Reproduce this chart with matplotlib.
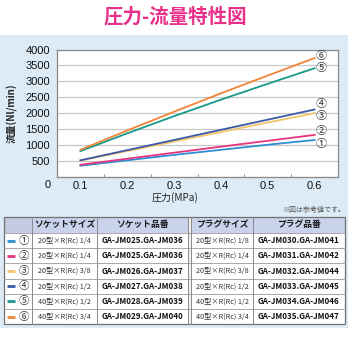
import matplotlib
matplotlib.use("Agg")
import matplotlib.pyplot as plt
from matplotlib.patches import Rectangle
import numpy as np

plt.rcParams['font.family'] = ['Noto Sans CJK JP', 'DejaVu Sans']

# ---------------- data ----------------
pressure = [0.1, 0.2, 0.3, 0.4, 0.5, 0.6]
flow_1 = [340, 510, 680, 840, 1000, 1150]
flow_2 = [370, 560, 750, 940, 1125, 1310]
flow_3 = [500, 800, 1100, 1400, 1700, 1995]
flow_4 = [510, 830, 1150, 1470, 1790, 2110]
flow_5 = [800, 1360, 1900, 2420, 2920, 3410]
flow_6 = [840, 1450, 2040, 2620, 3180, 3730]
series = [flow_1, flow_2, flow_3, flow_4, flow_5, flow_6]
series_labels = ['①', '②', '③', '④', '⑤', '⑥']
colors = ['#2f8fd3', '#e6367f', '#f3c56b', '#3b5aa6', '#17998a', '#f08536']

x_ticks = [0.1, 0.2, 0.3, 0.4, 0.5, 0.6]
x_tick_labels = ['0.1', '0.2', '0.3', '0.4', '0.5', '0.6']
y_ticks = [0, 500, 1000, 1500, 2000, 2500, 3000, 3500, 4000]
y_tick_labels = ['', '500', '1000', '1500', '2000', '2500', '3000', '3500', '4000']
origin_label = '0'

table_headers = ['ソケットサイズ', 'ソケット品番', 'プラグサイズ', 'プラグ品番']
socket_sizes = ['20型×R(Rc) 1/4', '20型×R(Rc) 1/4', '20型×R(Rc) 3/8',
                '20型×R(Rc) 1/2', '40型×R(Rc) 1/2', '40型×R(Rc) 3/4']
socket_parts = ['GA-JM025.GA-JM036', 'GA-JM025.GA-JM036', 'GA-JM026.GA-JM037',
                'GA-JM027.GA-JM038', 'GA-JM028.GA-JM039', 'GA-JM029.GA-JM040']
plug_sizes = ['20型×R(Rc) 1/8', '20型×R(Rc) 1/4', '20型×R(Rc) 3/8',
              '20型×R(Rc) 1/2', '40型×R(Rc) 1/2', '40型×R(Rc) 3/4']
plug_parts = ['GA-JM030.GA-JM041', 'GA-JM031.GA-JM042', 'GA-JM032.GA-JM044',
              'GA-JM033.GA-JM045', 'GA-JM034.GA-JM046', 'GA-JM035.GA-JM047']

# label vertical offsets (layout only)
label_dy = [-125, 125, -90, 160, 10, 65]

# ---------------- figure ----------------
W = H = 350
fig = plt.figure(figsize=(3.5, 3.5), dpi=100)
fig.patch.set_facecolor('white')

bg = fig.add_axes([0, 0, 1, 1], zorder=0)
bg.set_xlim(0, W)
bg.set_ylim(H, 0)
bg.axis('off')

panel_color = '#dcebf6'
bg.add_patch(Rectangle((0, 35), 348, 293, facecolor=panel_color, edgecolor='none'))

# title
bg.text(175, 17, '圧力-流量特性図', color='#e8308a', fontsize=14, fontweight='semibold',
        ha='center', va='center')

# ---------------- chart ----------------
ax = fig.add_axes([57 / W, 1 - 176.5 / H, (338 - 57) / W, (176.5 - 49.5) / H], zorder=2)
ax.set_facecolor('white')
ax.set_xlim(0.05, 0.65)
ax.set_ylim(0, 4000)
ax.set_yticks(y_ticks)
ax.set_yticklabels(y_tick_labels)
ax.set_xticks(x_ticks)
ax.set_xticklabels(x_tick_labels)
ax.set_xticks([0.15, 0.25, 0.35, 0.45, 0.55], minor=True)
ax.grid(axis='y', color='#c8c8c8', linewidth=0.9)
ax.set_axisbelow(True)
ax.tick_params(axis='y', which='major', length=0, labelsize=8, pad=5,
               labelcolor='#111111')
ax.tick_params(axis='x', which='major', length=0, labelsize=8, pad=3,
               labelcolor='#111111')
ax.tick_params(axis='x', which='minor', direction='in', length=2, color='#777777')
for lab in ax.get_xticklabels() + ax.get_yticklabels():
    lab.set_family(['Liberation Sans', 'DejaVu Sans'])
for s in ax.spines.values():
    s.set_color('#8a8a8a')
    s.set_linewidth(0.9)

for vals, col in zip(series, colors):
    ax.plot(pressure, vals, color=col, linewidth=1.3)

for vals, lab, dy in zip(series, series_labels, label_dy):
    ax.text(pressure[-1] + 0.015, vals[-1] + dy, lab, fontsize=8, color='#333333',
            ha='center', va='center')

bg.text(48, 184.5, origin_label, fontsize=8, ha='center', va='center', color='#111111',
        family=['Liberation Sans', 'DejaVu Sans'])

# axis labels
bg.text(12, 113, '流量(Nl/min)', rotation=90, fontsize=7, fontweight='bold',
        ha='center', va='center', color='#222222')
bg.text(175, 198, '圧力(MPa)', fontsize=7.2, ha='center', va='center', color='#222222')
bg.text(345, 210, '※図は参考値です。', fontsize=5, ha='right', va='center', color='#555555')

# ---------------- table ----------------
col_edges = [4, 32, 97, 188, 191, 253, 345]
top = 217
head_h = 16
row_h = 15.2
n = len(series)
bottom = top + head_h + n * row_h

# header backgrounds
bg.add_patch(Rectangle((col_edges[0], top), col_edges[1] - col_edges[0], head_h,
                       facecolor='#c3cbe0', edgecolor='none'))
for c0, c1 in [(1, 2), (2, 3), (4, 5), (5, 6)]:
    bg.add_patch(Rectangle((col_edges[c0], top), col_edges[c1] - col_edges[c0], head_h,
                           facecolor='#c9d3ec', edgecolor='none'))
# body background
bg.add_patch(Rectangle((col_edges[0], top + head_h), col_edges[-1] - col_edges[0],
                       n * row_h, facecolor='white', edgecolor='none'))
# gap between double lines
bg.add_patch(Rectangle((col_edges[3], top), col_edges[4] - col_edges[3], bottom - top,
                       facecolor='#f2f2f2', edgecolor='none'))

# horizontal lines
for i in range(n):
    y = top + head_h + i * row_h
    bg.plot([col_edges[0], col_edges[-1]], [y, y], color='#9a9a9a', linewidth=0.6)
# vertical lines
for xe in col_edges[1:-1]:
    bg.plot([xe, xe], [top, bottom], color='#8a8a8a', linewidth=0.7)
# outer border
bg.add_patch(Rectangle((col_edges[0], top), col_edges[-1] - col_edges[0], bottom - top,
                       facecolor='none', edgecolor='#707070', linewidth=0.9))

centers = [(col_edges[1] + col_edges[2]) / 2, (col_edges[2] + col_edges[3]) / 2,
           (col_edges[4] + col_edges[5]) / 2, (col_edges[5] + col_edges[6]) / 2]
for cx, htxt in zip(centers, table_headers):
    bg.text(cx, top + head_h / 2, htxt, fontsize=6.3, fontweight='bold',
            ha='center', va='center', color='#1a1a1a')

for i in range(n):
    yc = top + head_h + (i + 0.5) * row_h
    bg.plot([6.5, 14.5], [yc, yc], color=colors[i], linewidth=2.0, solid_capstyle='butt')
    bg.text(24, yc, series_labels[i], fontsize=7.5, ha='center', va='center', color='#333333')
    bg.text(centers[0], yc, socket_sizes[i], fontsize=5.2, ha='center', va='center',
            color='#333333')
    bg.text(centers[1], yc, socket_parts[i], fontsize=5.8, fontweight='bold',
            ha='center', va='center', color='#111111')
    bg.text(centers[2], yc, plug_sizes[i], fontsize=5.2, ha='center', va='center',
            color='#333333')
    bg.text(centers[3], yc, plug_parts[i], fontsize=5.8, fontweight='bold',
            ha='center', va='center', color='#111111')

fig.savefig('out.png', dpi=100)
